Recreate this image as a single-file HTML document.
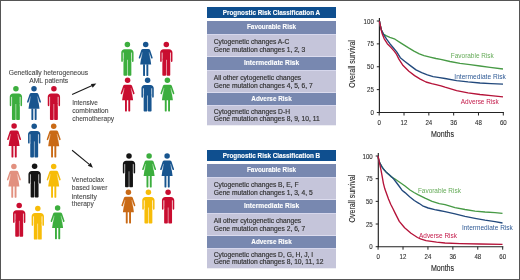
<!DOCTYPE html>
<html><head><meta charset="utf-8">
<style>
html,body{margin:0;padding:0;background:#fff;}
body{width:520px;height:280px;overflow:hidden;}
svg{display:block;will-change:transform;}
text{font-family:"Liberation Sans",sans-serif;}
.th{font-weight:bold;font-size:6.6px;fill:#fff;stroke:#fff;stroke-width:0.12px;}
.tm{font-weight:bold;font-size:6.6px;fill:#fff;stroke:#fff;stroke-width:0.12px;}
.tl{font-size:7px;fill:#333;stroke:#333;stroke-width:0.18px;}
.lt{font-size:6.95px;fill:#484848;stroke:#484848;stroke-width:0.1px;}
.ax{font-size:7.1px;fill:#2e2e2e;stroke:#2e2e2e;stroke-width:0.1px;}
.at{font-size:8.4px;fill:#2a2a2a;stroke:#2a2a2a;stroke-width:0.12px;}
.cl{font-size:6.5px;}
</style></head><body>
<svg width="520" height="280" viewBox="0 0 520 280">

<defs>
<symbol id="man" overflow="visible">
<circle cx="6.15" cy="2.8" r="2.75"/>
<path d="M0,19.3 V10.8 C0,8.9 1.5,7.5 3.3,7.5 H9.0 C10.8,7.5 12.3,8.9 12.3,10.8 V19.3 C12.3,19.8 11.9,20.2 11.45,20.2 C11,20.2 10.6,19.8 10.6,19.3 V11 H1.7 V19.3 C1.7,19.8 1.3,20.2 0.85,20.2 C0.4,20.2 0,19.8 0,19.3 Z"/>
<rect x="2.2" y="10" width="7.9" height="8"/>
<path d="M2.2,17 H5.9 V33.3 C5.9,33.7 5.55,34 5.15,34 H2.95 C2.55,34 2.2,33.7 2.2,33.3 Z"/>
<path d="M6.4,17 H10.1 V33.3 C10.1,33.7 9.75,34 9.35,34 H7.15 C6.75,34 6.4,33.7 6.4,33.3 Z"/>
<path d="M1.95,10.6 V20.5 M10.35,10.6 V20.5" stroke="#fff" stroke-width="0.5" stroke-opacity="0.75"/>
</symbol>
<symbol id="woman" overflow="visible">
<circle cx="7" cy="2.8" r="2.75"/>
<path d="M4.3,7.2 H9.7 C10.5,7.2 11.1,7.6 11.4,8.3 L13.9,15.6 C14.1,16.2 13.8,16.8 13.2,16.8 C12.8,16.8 12.5,16.6 12.4,16.2 L10.9,11.6 L12.5,22.8 H1.5 L3.1,11.6 L1.6,16.2 C1.5,16.6 1.2,16.8 0.8,16.8 C0.2,16.8 -0.1,16.2 0.1,15.6 L2.6,8.3 C2.9,7.6 3.5,7.2 4.3,7.2 Z"/>
<path d="M4.4,22.5 H6.3 V33.6 C6.3,33.9 6.1,34.1 5.8,34.1 H4.9 C4.6,34.1 4.4,33.9 4.4,33.6 Z"/>
<path d="M7.7,22.5 H9.6 V33.6 C9.6,33.9 9.4,34.1 9.1,34.1 H8.2 C7.9,34.1 7.7,33.9 7.7,33.6 Z"/>
<path d="M10.45,10.6 L11.7,16.9 M3.55,10.6 L2.3,16.9" stroke="#fff" stroke-width="0.45" stroke-opacity="0.8"/>
</symbol>
</defs>

<rect x="0" y="0" width="520" height="280" fill="#fff"/>
<use href="#man" x="9.75" y="86.0" fill="#3cae3e"/><use href="#woman" x="27.0" y="85.9" fill="#18558f"/><use href="#man" x="47.75" y="86.0" fill="#c90d30"/><use href="#woman" x="7.1" y="123.3" fill="#c90d30"/><use href="#man" x="28.05" y="123.4" fill="#18558f"/><use href="#woman" x="46.7" y="123.4" fill="#c96a16"/><use href="#woman" x="6.9" y="163.6" fill="#e2907f"/><use href="#man" x="28.45" y="163.4" fill="#141414"/><use href="#woman" x="46.7" y="163.6" fill="#f7bc08"/><use href="#man" x="13.05" y="202.8" fill="#c90d30"/><use href="#man" x="31.65" y="205.6" fill="#f7bc08"/><use href="#woman" x="50.6" y="205.2" fill="#3cae3e"/><use href="#man" x="121.25" y="41.8" fill="#3cae3e"/><use href="#woman" x="138.7" y="41.8" fill="#18558f"/><use href="#man" x="160.15" y="41.8" fill="#c90d30"/><use href="#woman" x="120.6" y="77.5" fill="#c90d30"/><use href="#man" x="141.45" y="77.5" fill="#18558f"/><use href="#woman" x="160.4" y="77.5" fill="#3cae3e"/><use href="#man" x="122.85" y="153.3" fill="#141414"/><use href="#woman" x="142.1" y="153.3" fill="#3cae3e"/><use href="#woman" x="160.1" y="153.3" fill="#18558f"/><use href="#woman" x="121.4" y="189.5" fill="#c96a16"/><use href="#man" x="142.25" y="189.5" fill="#f7bc08"/><use href="#man" x="161.95" y="189.5" fill="#c90d30"/>

<text x="48.4" y="75" class="lt" text-anchor="middle" textLength="79.4" lengthAdjust="spacingAndGlyphs">Genetically heterogeneous</text>
<text x="48.7" y="82.5" class="lt" text-anchor="middle" textLength="39.1" lengthAdjust="spacingAndGlyphs">AML patients</text>
<text x="72.2" y="105.1" class="lt" textLength="25.7" lengthAdjust="spacingAndGlyphs">Intensive</text>
<text x="72.2" y="113.1" class="lt" textLength="36.4" lengthAdjust="spacingAndGlyphs">combination</text>
<text x="72.2" y="120.8" class="lt" textLength="42" lengthAdjust="spacingAndGlyphs">chemotherapy</text>
<text x="71.8" y="182.2" class="lt" textLength="32.2" lengthAdjust="spacingAndGlyphs">Venetoclax</text>
<text x="71.8" y="190.3" class="lt" textLength="35.6" lengthAdjust="spacingAndGlyphs">based lower</text>
<text x="71.8" y="198.5" class="lt" textLength="25" lengthAdjust="spacingAndGlyphs">intensity</text>
<text x="71.8" y="206" class="lt" textLength="22" lengthAdjust="spacingAndGlyphs">therapy</text>
<path d="M72.1,94.6 L92.2,85.6" stroke="#1a1a1a" stroke-width="1.1"/>
<path d="M96.3,83.6 L90.9,83.9 L92.7,87.7 Z" fill="#1a1a1a"/>
<path d="M72.1,150.3 L89.3,164.4" stroke="#1a1a1a" stroke-width="1.1"/>
<path d="M92.9,167.7 L87.8,165.7 L90.7,162.8 Z" fill="#1a1a1a"/>

<rect x="207" y="7" width="129" height="11" fill="#0f4f8f"/>
<text x="271.5" y="14.9" class="th" text-anchor="middle" textLength="97.4" lengthAdjust="spacingAndGlyphs">Prognostic Risk Classification A</text>
<rect x="207" y="21" width="129" height="13" fill="#7888b0"/>
<text x="271.5" y="29.4" class="tm" text-anchor="middle" textLength="49" lengthAdjust="spacingAndGlyphs">Favourable Risk</text>
<rect x="207" y="34" width="129" height="22" fill="#c5c5da"/>
<rect x="207" y="34" width="129" height="1" fill="#d6d7ec"/>
<rect x="207" y="56" width="129" height="1" fill="#dcdcee"/>
<text x="213.7" y="43.5" class="tl" textLength="75.6" lengthAdjust="spacingAndGlyphs">Cytogenetic changes A-C</text>
<text x="213.7" y="51.9" class="tl" textLength="91.63" lengthAdjust="spacingAndGlyphs">Gene mutation changes 1, 2, 3</text>
<rect x="207" y="57" width="129" height="13" fill="#7888b0"/>
<text x="271.5" y="65.4" class="tm" text-anchor="middle" textLength="55.2" lengthAdjust="spacingAndGlyphs">Intermediate Risk</text>
<rect x="207" y="70" width="129" height="22" fill="#c5c5da"/>
<rect x="207" y="70" width="129" height="1" fill="#d6d7ec"/>
<rect x="207" y="92" width="129" height="1" fill="#dcdcee"/>
<text x="213.7" y="79.5" class="tl" textLength="87.53" lengthAdjust="spacingAndGlyphs">All other cytogenetic changes</text>
<text x="213.7" y="87.9" class="tl" textLength="99.08" lengthAdjust="spacingAndGlyphs">Gene mutation changes 4, 5, 6, 7</text>
<rect x="207" y="93" width="129" height="13" fill="#7888b0"/>
<text x="271.5" y="101.4" class="tm" text-anchor="middle" textLength="40.4" lengthAdjust="spacingAndGlyphs">Adverse Risk</text>
<rect x="207" y="105" width="129" height="20.3" fill="#c5c5da"/>
<rect x="207" y="105" width="129" height="1" fill="#d6d7ec"/>
<text x="213.7" y="113.7" class="tl" textLength="76.34" lengthAdjust="spacingAndGlyphs">Cytogenetic changes D-H</text>
<text x="213.7" y="121.3" class="tl" textLength="106.03" lengthAdjust="spacingAndGlyphs">Gene mutation changes 8, 9, 10, 11</text>
<rect x="207" y="150" width="129" height="11" fill="#0f4f8f"/>
<text x="271.5" y="157.9" class="th" text-anchor="middle" textLength="97.4" lengthAdjust="spacingAndGlyphs">Prognostic Risk Classification B</text>
<rect x="207" y="164" width="129" height="13" fill="#7888b0"/>
<text x="271.5" y="172.4" class="tm" text-anchor="middle" textLength="49" lengthAdjust="spacingAndGlyphs">Favourable Risk</text>
<rect x="207" y="177" width="129" height="22" fill="#c5c5da"/>
<rect x="207" y="177" width="129" height="1" fill="#d6d7ec"/>
<rect x="207" y="199" width="129" height="1" fill="#dcdcee"/>
<text x="213.7" y="186.5" class="tl" textLength="84.91" lengthAdjust="spacingAndGlyphs">Cytogenetic changes B, E, F</text>
<text x="213.7" y="194.9" class="tl" textLength="99.08" lengthAdjust="spacingAndGlyphs">Gene mutation changes 1, 3, 4, 5</text>
<rect x="207" y="200" width="129" height="13" fill="#7888b0"/>
<text x="271.5" y="208.4" class="tm" text-anchor="middle" textLength="55.2" lengthAdjust="spacingAndGlyphs">Intermediate Risk</text>
<rect x="207" y="213" width="129" height="22" fill="#c5c5da"/>
<rect x="207" y="213" width="129" height="1" fill="#d6d7ec"/>
<rect x="207" y="235" width="129" height="1" fill="#dcdcee"/>
<text x="213.7" y="222.5" class="tl" textLength="87.53" lengthAdjust="spacingAndGlyphs">All other cytogenetic changes</text>
<text x="213.7" y="230.9" class="tl" textLength="91.63" lengthAdjust="spacingAndGlyphs">Gene mutation changes 2, 6, 7</text>
<rect x="207" y="236" width="129" height="13" fill="#7888b0"/>
<text x="271.5" y="244.4" class="tm" text-anchor="middle" textLength="40.4" lengthAdjust="spacingAndGlyphs">Adverse Risk</text>
<rect x="207" y="248" width="129" height="20.3" fill="#c5c5da"/>
<rect x="207" y="248" width="129" height="1" fill="#d6d7ec"/>
<text x="213.7" y="256.7" class="tl" textLength="99.43" lengthAdjust="spacingAndGlyphs">Cytogenetic changes D, G, H, J, I</text>
<text x="213.7" y="264.3" class="tl" textLength="109.76" lengthAdjust="spacingAndGlyphs">Gene mutation changes 8, 10, 11, 12</text>
<path d="M379.4,18 V112.5 H503.9" stroke="#222" stroke-width="1.15" fill="none"/>
<path d="M376.79999999999995,21.00 H379.4" stroke="#222" stroke-width="1"/>
<text x="373.80" y="23.50" class="ax" text-anchor="end" textLength="10.2" lengthAdjust="spacingAndGlyphs">100</text>
<path d="M376.79999999999995,43.88 H379.4" stroke="#222" stroke-width="1"/>
<text x="373.80" y="46.38" class="ax" text-anchor="end" textLength="6.8" lengthAdjust="spacingAndGlyphs">75</text>
<path d="M376.79999999999995,66.75 H379.4" stroke="#222" stroke-width="1"/>
<text x="373.80" y="69.25" class="ax" text-anchor="end" textLength="6.8" lengthAdjust="spacingAndGlyphs">50</text>
<path d="M376.79999999999995,89.62 H379.4" stroke="#222" stroke-width="1"/>
<text x="373.80" y="92.12" class="ax" text-anchor="end" textLength="6.8" lengthAdjust="spacingAndGlyphs">25</text>
<path d="M376.79999999999995,112.50 H379.4" stroke="#222" stroke-width="1"/>
<text x="373.80" y="115.00" class="ax" text-anchor="end" textLength="3.4" lengthAdjust="spacingAndGlyphs">0</text>
<path d="M379.20,112.5 V115.5" stroke="#222" stroke-width="1"/>
<text x="379.20" y="124.60" class="ax" text-anchor="middle" textLength="3.4" lengthAdjust="spacingAndGlyphs">0</text>
<path d="M404.02,112.5 V115.5" stroke="#222" stroke-width="1"/>
<text x="404.02" y="124.60" class="ax" text-anchor="middle" textLength="6.8" lengthAdjust="spacingAndGlyphs">12</text>
<path d="M428.84,112.5 V115.5" stroke="#222" stroke-width="1"/>
<text x="428.84" y="124.60" class="ax" text-anchor="middle" textLength="6.8" lengthAdjust="spacingAndGlyphs">24</text>
<path d="M453.66,112.5 V115.5" stroke="#222" stroke-width="1"/>
<text x="453.66" y="124.60" class="ax" text-anchor="middle" textLength="6.8" lengthAdjust="spacingAndGlyphs">36</text>
<path d="M478.48,112.5 V115.5" stroke="#222" stroke-width="1"/>
<text x="478.48" y="124.60" class="ax" text-anchor="middle" textLength="6.8" lengthAdjust="spacingAndGlyphs">48</text>
<path d="M503.30,112.5 V115.5" stroke="#222" stroke-width="1"/>
<text x="503.30" y="124.60" class="ax" text-anchor="middle" textLength="6.8" lengthAdjust="spacingAndGlyphs">60</text>
<text x="442.5" y="136.80" class="at" text-anchor="middle" textLength="23.2" lengthAdjust="spacingAndGlyphs">Months</text>
<text transform="translate(355.1,63.95) rotate(-90)" class="at" text-anchor="middle" textLength="47.7" lengthAdjust="spacingAndGlyphs">Overall survival</text>
<polyline points="379.4,21 380.3,25.5 381.4,30 383.4,34.1 386.5,35.8 389.9,37.3 395,39.2 401,43.1 408.6,47.9 414,51.1 419.3,53.9 424,55.7 430,57.1 436,58.5 440.7,59.4 450,61.5 460,63.4 470,64.7 480,66 490,67.3 503,69" stroke="#479a45" stroke-width="1.35" fill="none" stroke-linejoin="round"/>
<polyline points="379.4,21 380.3,25.5 381.4,30 383.4,34.1 386.6,39.2 389.9,43.7 393.7,48.2 396.9,52.1 400.3,57.7 404.6,61.3 410.3,65.6 416,69.9 421.7,72.7 427.4,74.9 433.1,76.6 438,77.4 445,78.5 456.6,80.6 468,81.9 480,83 491,83.6 503,84.1" stroke="#22497c" stroke-width="1.35" fill="none" stroke-linejoin="round"/>
<polyline points="379.4,21 380.3,25.3 380.9,28.3 382.1,33.4 384.1,38.6 387.3,43.7 391.1,47.6 394.4,51.4 396.2,53.8 398.9,59.1 403.1,65.6 408.9,71.3 414.6,75.6 420.3,79.1 426,82 431.7,83.6 436,84.6 441,85.8 445,87.2 450,88.6 456.6,90.6 468,92.9 480,94.5 491,95.7 503,96.9" stroke="#b51339" stroke-width="1.35" fill="none" stroke-linejoin="round"/>
<text x="450.8" y="58.3" fill="#65ab58" class="cl" textLength="43" lengthAdjust="spacingAndGlyphs">Favorable Risk</text>
<text x="454.3" y="78.5" fill="#2f5a95" class="cl" textLength="51.5" lengthAdjust="spacingAndGlyphs">Intermediate Risk</text>
<text x="460.8" y="104" fill="#c41a4a" class="cl" textLength="38" lengthAdjust="spacingAndGlyphs">Adverse Risk</text>
<path d="M378.3,153 V246.7 H503.30000000000007" stroke="#222" stroke-width="1.15" fill="none"/>
<path d="M375.7,156.00 H378.3" stroke="#222" stroke-width="1"/>
<text x="372.70" y="158.50" class="ax" text-anchor="end" textLength="10.2" lengthAdjust="spacingAndGlyphs">100</text>
<path d="M375.7,178.68 H378.3" stroke="#222" stroke-width="1"/>
<text x="372.70" y="181.18" class="ax" text-anchor="end" textLength="6.8" lengthAdjust="spacingAndGlyphs">75</text>
<path d="M375.7,201.35 H378.3" stroke="#222" stroke-width="1"/>
<text x="372.70" y="203.85" class="ax" text-anchor="end" textLength="6.8" lengthAdjust="spacingAndGlyphs">50</text>
<path d="M375.7,224.02 H378.3" stroke="#222" stroke-width="1"/>
<text x="372.70" y="226.52" class="ax" text-anchor="end" textLength="6.8" lengthAdjust="spacingAndGlyphs">25</text>
<path d="M375.7,246.70 H378.3" stroke="#222" stroke-width="1"/>
<text x="372.70" y="249.20" class="ax" text-anchor="end" textLength="3.4" lengthAdjust="spacingAndGlyphs">0</text>
<path d="M378.10,246.7 V249.7" stroke="#222" stroke-width="1"/>
<text x="378.10" y="258.80" class="ax" text-anchor="middle" textLength="3.4" lengthAdjust="spacingAndGlyphs">0</text>
<path d="M403.02,246.7 V249.7" stroke="#222" stroke-width="1"/>
<text x="403.02" y="258.80" class="ax" text-anchor="middle" textLength="6.8" lengthAdjust="spacingAndGlyphs">12</text>
<path d="M427.94,246.7 V249.7" stroke="#222" stroke-width="1"/>
<text x="427.94" y="258.80" class="ax" text-anchor="middle" textLength="6.8" lengthAdjust="spacingAndGlyphs">24</text>
<path d="M452.86,246.7 V249.7" stroke="#222" stroke-width="1"/>
<text x="452.86" y="258.80" class="ax" text-anchor="middle" textLength="6.8" lengthAdjust="spacingAndGlyphs">36</text>
<path d="M477.78,246.7 V249.7" stroke="#222" stroke-width="1"/>
<text x="477.78" y="258.80" class="ax" text-anchor="middle" textLength="6.8" lengthAdjust="spacingAndGlyphs">48</text>
<path d="M502.70,246.7 V249.7" stroke="#222" stroke-width="1"/>
<text x="502.70" y="258.80" class="ax" text-anchor="middle" textLength="6.8" lengthAdjust="spacingAndGlyphs">60</text>
<text x="442.5" y="271.00" class="at" text-anchor="middle" textLength="23.2" lengthAdjust="spacingAndGlyphs">Months</text>
<text transform="translate(355.1,198.55) rotate(-90)" class="at" text-anchor="middle" textLength="47.7" lengthAdjust="spacingAndGlyphs">Overall survival</text>
<polyline points="378,156 378.7,160 380,163.4 381.7,166.4 383.4,169 386,171.9 388.6,174.2 391.1,176.6 393,177.9 395,179 400,182.5 405,186 410,190 414,192.5 417.9,194.6 425,198.2 432.1,201.4 439.3,203.6 445,204.7 455,207.6 465,209.5 475,211.1 485,212 495,212.6 502.5,213.4" stroke="#479a45" stroke-width="1.35" fill="none" stroke-linejoin="round"/>
<polyline points="378,156 378.7,160 380,163.4 381.7,166.4 383.4,169 386,171.9 388.6,174.2 391.1,176.6 393,178.2 396,182 399,186 402,190.2 405,192.6 409.6,196.8 414.3,200.5 418.9,203.3 422.6,205.8 428.2,208 434.7,209.6 439.3,210.5 445,211.6 455,213.9 465,216.4 475,218.3 485,220.2 495,221.7 502.5,223" stroke="#22497c" stroke-width="1.35" fill="none" stroke-linejoin="round"/>
<polyline points="378,156 379.8,164.3 381.1,170.7 382.3,177.1 383.4,183.3 384.8,188.8 386.6,193.8 388.5,199 390.7,204.3 393,208.8 395,212.9 399.3,221.4 404.6,227.8 411,233.2 417.5,237.5 420.5,238.9 426,240.6 436.6,242.2 445,243 460,243.6 480,244 502.5,244.4" stroke="#b51339" stroke-width="1.35" fill="none" stroke-linejoin="round"/>
<text x="417.9" y="192.7" fill="#65ab58" class="cl" textLength="43" lengthAdjust="spacingAndGlyphs">Favorable Risk</text>
<text x="461.9" y="230" fill="#2f5a95" class="cl" textLength="51" lengthAdjust="spacingAndGlyphs">Intermediate Risk</text>
<text x="419" y="238" fill="#c41a4a" class="cl" textLength="38" lengthAdjust="spacingAndGlyphs">Adverse Risk</text>
<rect x="0.5" y="0.5" width="519" height="279" fill="none" stroke="#555" stroke-width="1"/>
</svg>
</body></html>
